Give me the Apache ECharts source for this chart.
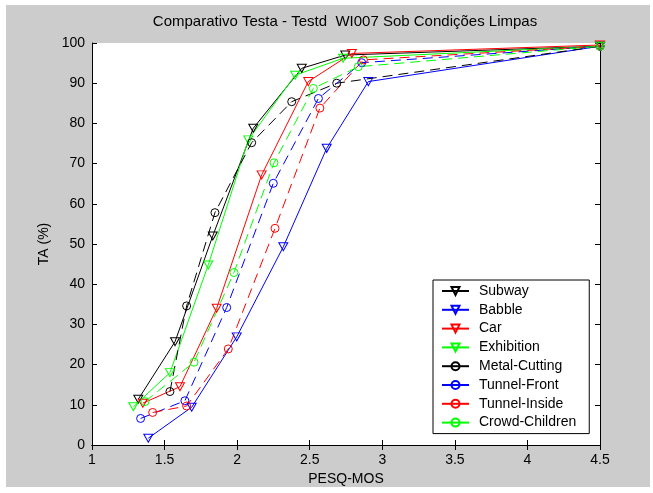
<!DOCTYPE html>
<html>
<head>
<meta charset="utf-8">
<script src="https://cdn.jsdelivr.net/npm/echarts@6/dist/echarts.min.js"></script>
<style>
html,body{margin:0;padding:0;background:#ffffff;width:653px;height:493px;overflow:hidden;}
#chart{position:absolute;left:6px;top:5px;width:644px;height:482px;}
</style>
</head>
<body>
<div id="chart"></div>
<script>
// ---- data ----
var seriesNames = ['Subway','Babble','Car','Exhibition','Metal-Cutting','Tunnel-Front','Tunnel-Inside','Crowd-Children'];
var subwayX  = [1.319, 1.572, 1.832, 2.111, 2.445, 2.745, 4.5];
var subwayY  = [11.4, 25.7, 52.0, 78.8, 93.7, 97.0, 99.2];
var babbleX  = [1.388, 1.687, 1.997, 2.318, 2.617, 2.904, 4.5];
var babbleY  = [1.7, 9.4, 26.9, 49.3, 73.8, 90.4, 99.2];
var carX     = [1.35, 1.606, 1.859, 2.169, 2.49, 2.79, 4.5];
var carY     = [10.4, 14.5, 34.0, 67.2, 90.4, 97.4, 99.5];
var exhibX   = [1.285, 1.537, 1.801, 2.077, 2.40, 2.73, 4.5];
var exhibY   = [9.5, 18.0, 44.8, 75.9, 92.0, 96.2, 99.2];
var metalX   = [1.537, 1.652, 1.847, 2.10, 2.376, 2.686, 4.5];
var metalY   = [13.3, 34.6, 57.8, 75.2, 85.4, 90.0, 99.2];
var tFrontX  = [1.335, 1.64, 1.928, 2.249, 2.56, 2.858, 4.5];
var tFrontY  = [6.6, 11.0, 34.2, 65.1, 86.2, 95.1, 99.2];
var tInsideX = [1.418, 1.652, 1.939, 2.261, 2.57, 2.87, 4.5];
var tInsideY = [8.1, 9.7, 23.9, 53.9, 83.8, 95.8, 99.2];
var crowdX   = [1.365, 1.703, 1.978, 2.254, 2.525, 2.835, 4.5];
var crowdY   = [10.8, 20.6, 42.9, 70.2, 88.7, 94.1, 99.2];
var xTicks = [1, 1.5, 2, 2.5, 3, 3.5, 4, 4.5];
var yTicks = [0, 10, 20, 30, 40, 50, 60, 70, 80, 90, 100];

// ---- styling ----
var FONT = "'Liberation Sans', Arial, sans-serif";
var TRI = 'path://M0,0L10,0L5,9Z';
var allX = [subwayX, babbleX, carX, exhibX, metalX, tFrontX, tInsideX, crowdX];
var allY = [subwayY, babbleY, carY, exhibY, metalY, tFrontY, tInsideY, crowdY];
var colors = ['#000000','#0000ff','#ff0000','#00ff00','#000000','#0000ff','#ff0000','#00ff00'];

function pairs(xs, ys){ var o=[]; for(var i=0;i<xs.length;i++) o.push([xs[i], ys[i]]); return o; }

var series = seriesNames.map(function(name, i){
  var tri = i < 4;
  return {
    name: name,
    type: 'line',
    xAxisIndex: 0, yAxisIndex: 0,
    data: pairs(allX[i], allY[i]),
    symbol: tri ? TRI : 'circle',
    symbolSize: tri ? [9, 8] : 8,
    showAllSymbol: true,
    itemStyle: { color: 'rgba(0,0,0,0)', borderColor: colors[i], borderWidth: 1 },
    lineStyle: { color: colors[i], width: 1, type: tri ? 'solid' : [10, 6] },
    emphasis: { disabled: true },
    z: 2
  };
});

var axisCommon = {
  type: 'value',
  axisLine: { show: true, lineStyle: { color: '#000', width: 1 } },
  axisTick: { show: true, inside: true, length: 5, lineStyle: { color: '#000' } },
  splitLine: { show: false },
  axisLabel: { show: true, color: '#000', fontFamily: FONT, fontSize: 14 }
};
function ax(extra){ return Object.assign(JSON.parse(JSON.stringify(axisCommon)), extra); }

var chart = echarts.init(document.getElementById('chart'), null, { renderer: 'canvas' });
chart.setOption({
  animation: false,
  backgroundColor: '#cccccc',
  title: {
    text: 'Comparativo Testa - Testd  WI007 Sob Condições Limpas',
    left: 334, top: 4, textAlign: 'center',
    textStyle: { fontFamily: FONT, fontSize: 15, fontWeight: 'normal', color: '#000' }
  },
  grid: { left: 86, top: 38, right: 50, bottom: 42, show: true, backgroundColor: '#ffffff', borderWidth: 0,
          containLabel: false, outerBoundsMode: 'none' },
  xAxis: [
    ax({ min: xTicks[0], max: xTicks[xTicks.length-1], interval: 0.5, position: 'bottom',
         name: 'PESQ-MOS', nameLocation: 'middle', nameGap: 26,
         nameTextStyle: { fontFamily: FONT, fontSize: 14, color: '#000' },
         axisLabel: { show: true, color: '#000', fontFamily: FONT, fontSize: 14, margin: 8 } }),
    ax({ min: xTicks[0], max: xTicks[xTicks.length-1], interval: 0.5, position: 'top', axisLabel: { show: false } })
  ],
  yAxis: [
    ax({ min: yTicks[0], max: yTicks[yTicks.length-1], interval: 10, position: 'left',
         name: 'TA (%)', nameLocation: 'middle', nameGap: 40,
         nameTextStyle: { fontFamily: FONT, fontSize: 14, color: '#000' },
         axisLabel: { show: true, color: '#000', fontFamily: FONT, fontSize: 14, margin: 7 } }),
    ax({ min: yTicks[0], max: yTicks[yTicks.length-1], interval: 10, position: 'right', axisLabel: { show: false } })
  ],
  legend: {
    orient: 'vertical',
    left: 427, top: 275,
    padding: [4, 13, 4, 8],
    itemWidth: 27, itemHeight: 10, itemGap: 4.8,
    backgroundColor: '#ffffff', borderColor: '#000', borderWidth: 1,
    lineStyle: { type: 'solid' },
    textStyle: { fontFamily: FONT, fontSize: 14, color: '#000', padding: [0, 0, 0, 5] },
    data: seriesNames
  },
  series: series
});
</script>
</body>
</html>
